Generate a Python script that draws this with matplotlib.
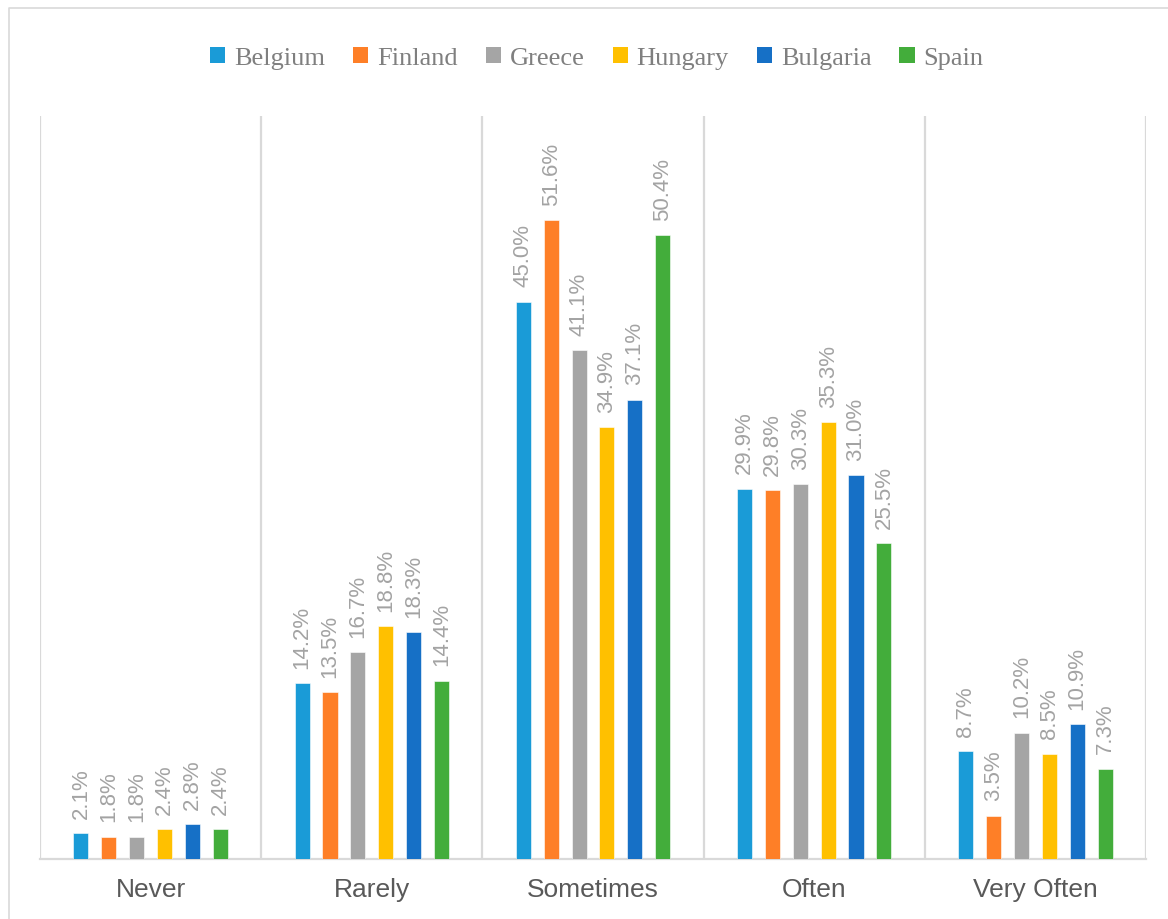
import matplotlib
matplotlib.use("Agg")
import matplotlib.pyplot as plt
import numpy as np
from matplotlib.lines import Line2D
from matplotlib.patches import Patch

categories = ["Never", "Rarely", "Sometimes", "Often", "Very Often"]
countries = ["Belgium", "Finland", "Greece", "Hungary", "Bulgaria", "Spain"]
belgium = [2.1, 14.2, 45.0, 29.9, 8.7]
finland = [1.8, 13.5, 51.6, 29.8, 3.5]
greece = [1.8, 16.7, 41.1, 30.3, 10.2]
hungary = [2.4, 18.8, 34.9, 35.3, 8.5]
bulgaria = [2.8, 18.3, 37.1, 31.0, 10.9]
spain = [2.4, 14.4, 50.4, 25.5, 7.3]
series = [belgium, finland, greece, hungary, bulgaria, spain]
colors = ["#1a9bd7", "#fe7f27", "#a5a5a5", "#ffc000", "#1670c6", "#43ad3b"]

fig = plt.figure(figsize=(11.68, 9.2), dpi=100)
ax = fig.add_axes([40 / 1168, 60 / 920, 1106 / 1168, 743 / 920])

x = np.arange(len(categories))
step = 0.126
width = 0.068
for i, (vals, col) in enumerate(zip(series, colors)):
    pos = x + (i - 2.5) * step
    bars = ax.bar(pos, vals, width=width, color=col, edgecolor="white", linewidth=0.4, zorder=3)
    for b, v in zip(bars, vals):
        ax.annotate(f"{v:.1f}%", (b.get_x() + b.get_width() / 2, v),
                    xytext=(0, 11), textcoords="offset points",
                    rotation=90, ha="center", va="bottom",
                    fontsize=16, color="#a3a3a3", family="Liberation Sans")

ax.set_xlim(-0.5, 4.5)
ax.set_ylim(0, 60)
for s in np.arange(-0.5, 5.0, 1.0):
    ax.axvline(s, color="#d9d9d9", lw=1.6, zorder=1)
for sp in ["top", "left", "right"]:
    ax.spines[sp].set_visible(False)
ax.spines["bottom"].set_color("#d9d9d9")
ax.spines["bottom"].set_linewidth(1.6)
ax.set_yticks([])
ax.set_xticks(x)
ax.set_xticklabels(categories, fontsize=19, color="#595959", family="Liberation Sans")
ax.tick_params(axis="x", length=0, pad=13)

handles = [Patch(facecolor=c, edgecolor="none") for c in colors]
fig.legend(handles, countries, loc="center", bbox_to_anchor=(0.511, 0.936), ncol=6,
           frameon=False, prop={"family": "Liberation Serif", "size": 19},
           labelcolor="#7f7f7f", handlelength=0.57, handleheight=0.6,
           handletextpad=0.34, columnspacing=1.06)

fig.add_artist(Line2D([8.5 / 1168, 8.5 / 1168, 1.01], [-0.01, 1 - 8.5 / 920, 1 - 8.5 / 920],
                      transform=fig.transFigure, color="#d9d9d9", lw=1.2))

fig.savefig("out.png", dpi=100)
